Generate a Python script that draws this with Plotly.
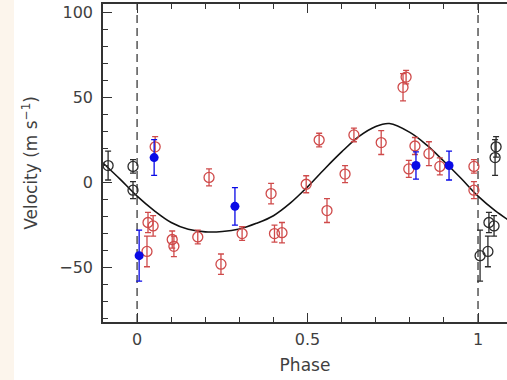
import plotly.graph_objects as go

# Radial-velocity measurements, instrument A (open red circles)
red_phase = [0.032, 0.047, 0.029, 0.053, 0.103, 0.108, 0.178, 0.211, 0.246, 0.308,
             0.393, 0.403, 0.425, 0.496, 0.534, 0.557, 0.610, 0.636, 0.716, 0.780,
             0.789, 0.797, 0.815, 0.856, 0.888, 0.988, 0.988]
red_vel = [-23.5, -25.5, -40.5, 21.0, -33.5, -37.5, -32.0, 3.0, -48.0, -30.0,
           -6.5, -30.0, -29.5, -1.0, 25.0, -16.5, 5.0, 28.0, 23.5, 56.0,
           62.0, 8.0, 21.5, 17.0, 9.5, 9.5, -4.5]
red_err = [6, 6, 9, 6, 5, 6, 4, 5, 6, 4,
           6, 5, 6, 5, 4, 7, 5, 4, 7, 8,
           4, 5, 5, 7, 5, 4, 5]

# Instrument B (filled blue circles)
blue_phase = [0.006, 0.050, 0.287, 0.818, 0.915]
blue_vel = [-43.0, 14.7, -14.0, 10.0, 10.0]
blue_err = [15, 10.5, 11, 8, 8.5]

# Orbital solution sampled in phase
fit_phase = [-0.10, -0.05, 0.00, 0.05, 0.10, 0.15, 0.20, 0.25, 0.30, 0.35, 0.40,
             0.45, 0.50, 0.55, 0.60, 0.65, 0.70, 0.74, 0.80, 0.85, 0.90, 0.95,
             1.00, 1.05, 1.10]
fit_vel = [11.5, 2.0, -8.0, -16.5, -23.5, -27.5, -29.0, -28.8, -27.3, -24.0, -19.5,
           -12.0, -2.5, 8.0, 18.0, 27.0, 33.0, 34.7, 29.5, 22.0, 12.5, 2.5,
           -8.0, -16.5, -23.5]

x_ticks = [0, 0.5, 1]
x_tick_text = ["0", "0.5", "1"]
y_ticks = [-50, 0, 50, 100]

X_MIN, X_MAX = -0.1, 1.085
Y_MIN, Y_MAX = -82, 105

# Points repeated one cycle earlier/later, shown in black
wrap_phase, wrap_vel, wrap_err = [], [], []
for ph, v, e in zip(red_phase + blue_phase, red_vel + blue_vel, red_err + blue_err):
    for shifted in (ph - 1, ph + 1):
        if X_MIN <= shifted <= X_MAX:
            wrap_phase.append(shifted)
            wrap_vel.append(v)
            wrap_err.append(e)

RED = "#cf4a4a"
BLUE = "#0a0ae6"
DARK = "#2b2b2b"
FONT = "DejaVu Sans, Arial, sans-serif"
TEXT = "#3f3f3f"

fig = go.Figure()

fig.add_trace(go.Scatter(
    x=fit_phase, y=fit_vel, mode="lines",
    line=dict(color="#111111", width=1.6, shape="spline", smoothing=1.0),
    showlegend=False, hoverinfo="skip"))

fig.add_trace(go.Scatter(
    x=red_phase, y=red_vel, mode="markers",
    marker=dict(symbol="circle-open", size=10, color=RED, line=dict(width=1.3, color=RED)),
    error_y=dict(type="data", array=red_err, color=RED, thickness=1.3, width=3),
    showlegend=False))

fig.add_trace(go.Scatter(
    x=wrap_phase, y=wrap_vel, mode="markers",
    marker=dict(symbol="circle-open", size=10, color=DARK, line=dict(width=1.3, color=DARK)),
    error_y=dict(type="data", array=wrap_err, color=DARK, thickness=1.3, width=3),
    showlegend=False))

fig.add_trace(go.Scatter(
    x=blue_phase, y=blue_vel, mode="markers",
    marker=dict(symbol="circle", size=9, color=BLUE),
    error_y=dict(type="data", array=blue_err, color=BLUE, thickness=1.3, width=3),
    showlegend=False))

# Cycle boundaries
for xb in (0, 1):
    fig.add_shape(type="line", xref="x", yref="paper", x0=xb, x1=xb, y0=0, y1=1,
                  line=dict(color="#555555", width=1.5, dash="8px,5px"), layer="below")

# Pale strip along the left edge of the page
fig.add_shape(type="rect", xref="paper", yref="paper", x0=-103 / 404, x1=-89 / 404,
              y0=-58 / 318, y1=1 + 4 / 318, fillcolor="#fcf5ec", line=dict(width=0),
              layer="below")

axis_common = dict(showline=True, linecolor="#333333", linewidth=1.5,
                   ticks="inside", tickcolor="#333333", ticklen=9, tickwidth=1.3,
                   showgrid=False, zeroline=False,
                   tickfont=dict(family=FONT, size=16, color=TEXT))

fig.update_layout(
    width=507, height=380,
    margin=dict(l=103, r=0, t=4, b=58),
    paper_bgcolor="white", plot_bgcolor="white",
    font=dict(family=FONT, color=TEXT),
    xaxis=dict(range=[X_MIN, X_MAX], tickvals=x_ticks, ticktext=x_tick_text,
               mirror="ticks", ticklabelstandoff=2,
               minor=dict(ticks="inside", ticklen=5, dtick=0.1, tick0=0,
                          tickcolor="#333333", tickwidth=1.2),
               title=dict(text="Phase", font=dict(family=FONT, size=17, color=TEXT),
                          standoff=11),
               **axis_common),
    yaxis=dict(range=[Y_MIN, Y_MAX], tickvals=y_ticks, ticklabelstandoff=5,
               minor=dict(ticks="inside", ticklen=5, dtick=10, tick0=0,
                          tickcolor="#333333", tickwidth=1.2),
               title=dict(text="Velocity (m s<sup>\u22121</sup>)",
                          font=dict(family=FONT, size=17, color=TEXT),
                          standoff=17),
               **axis_common),
    yaxis2=dict(range=[Y_MIN, Y_MAX], overlaying="y", side="right",
                tickvals=y_ticks, showticklabels=False, showline=False,
                ticks="inside", ticklen=9, tickwidth=1.3, tickcolor="#333333",
                minor=dict(ticks="inside", ticklen=5, dtick=10, tick0=0,
                           tickcolor="#333333", tickwidth=1.2),
                showgrid=False, zeroline=False),
)

fig.write_html("out.html")
